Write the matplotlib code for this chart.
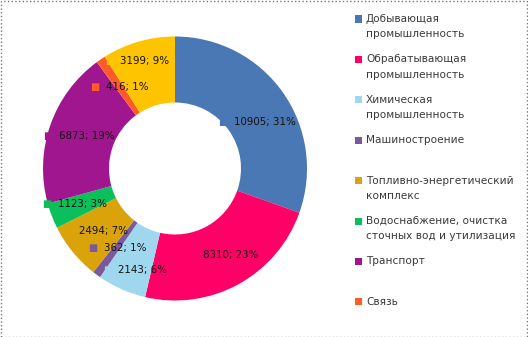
import matplotlib.pyplot as plt
from matplotlib.patches import Rectangle
import numpy as np

sectors = [
    "Добывающая\nпромышленность",
    "Обрабатывающая\nпромышленность",
    "Химическая\nпромышленность",
    "Машиностроение",
    "Топливно-энергетический\nкомплекс",
    "Водоснабжение, очистка\nсточных вод и утилизация",
    "Транспорт",
    "Связь",
    "Прочие",
]
values = [10905, 8310, 2143, 362, 2494, 1123, 6873, 416, 3199]
pct_text = ["31%", "23%", "6%", "1%", "7%", "3%", "19%", "1%", "9%"]
colors = ["#4a78b4", "#ff0066", "#9fd8ee", "#7a5a9a", "#daa30a",
          "#0bbf5a", "#a0168e", "#ff5a28", "#ffc400"]

W, H = 528, 337
fig = plt.figure(figsize=(W / 100, H / 100), dpi=100)

# donut: centre (175, 168) px, outer radius ~132 px
cx, cy, r = 175, 168.5, 132
ax = fig.add_axes([(cx - r) / W, (H - cy - r) / H, 2 * r / W, 2 * r / H])
wedges, _ = ax.pie(values, colors=colors, startangle=90, counterclock=False,
                   radius=1.0, wedgeprops=dict(width=0.5, linewidth=0))
ax.set_xlim(-1, 1)
ax.set_ylim(-1, 1)
ax.set_aspect("equal")
ax.axis("off")

# data labels with a small colour key in front of each
shift = {0: (0.03, -0.08), 1: (0.02, 0.0), 2: (0.02, -0.08), 3: (0.03, 0.0),
         5: (-0.04, 0.0), 7: (0.02, 0.0), 8: (-0.06, 0.09)}
for i, w in enumerate(wedges):
    ang = np.deg2rad((w.theta1 + w.theta2) / 2)
    x, y = 0.75 * np.cos(ang) + 0.04, 0.75 * np.sin(ang)
    dx, dy = shift.get(i, (0, 0))
    x, y = x + dx, y + dy
    txt = ax.text(x, y, f"{values[i]}; {pct_text[i]}", ha="center", va="center",
                  fontsize=7.4, color="#111111")
    ax.annotate("\u25a0", xy=(0, 0.5), xycoords=txt, xytext=(-8, 0),
                textcoords="offset points", ha="center", va="center",
                fontsize=7, color=colors[i])

# legend on the right, evenly spaced entries
top, step = 19, 40.4
for i in range(8):
    ypx = top + i * step
    fig.patches.append(Rectangle((355 / W, 1 - (ypx + 3.5) / H), 7 / W, 7 / H,
                                 transform=fig.transFigure, facecolor=colors[i],
                                 edgecolor="none"))
    fig.text(366 / W, 1 - (ypx - 5) / H, sectors[i], ha="left", va="top",
             fontsize=7.6, color="#3a3a3a", linespacing=1.65)

# dotted frame around the whole chart
fig.patches.append(Rectangle((0.5 / W, 0.5 / H), 1 - 1.5 / W, 1 - 1.5 / H,
                             transform=fig.transFigure, fill=False,
                             edgecolor="#777777", linestyle=":", linewidth=1))

fig.savefig("out.png", dpi=100)
